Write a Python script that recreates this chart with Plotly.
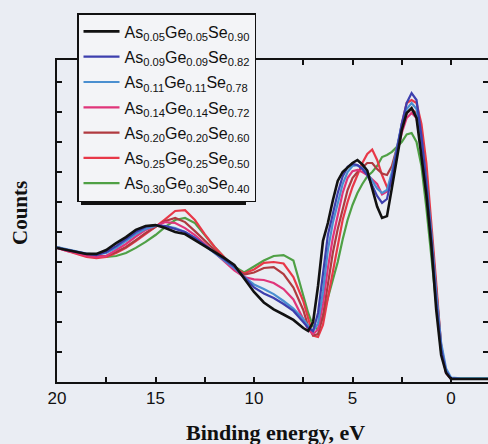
import plotly.graph_objects as go

energy = [20, 19.5, 19, 18.5, 18, 17.5, 17, 16.5, 16, 15.5, 15, 14.5, 14, 13.5, 13, 12.5, 12, 11.5, 11,
          10.5, 10, 9.5, 9, 8.5, 8, 7.5, 7.25, 7, 6.75, 6.5, 6.25, 6, 5.75, 5.5, 5.25, 5, 4.75, 4.5, 4.25,
          4, 3.75, 3.5, 3.25, 3, 2.75, 2.5, 2.25, 2, 1.75, 1.5, 1.25, 1, 0.75, 0.5, 0.25, 0, -0.5, -1, -2]

s005 = [4.47, 4.40, 4.33, 4.27, 4.27, 4.40, 4.63, 4.83, 5.07, 5.20, 5.23, 5.13, 5.00, 4.93, 4.73, 4.53, 4.33, 4.13, 3.90,
        3.45, 3.00, 2.65, 2.42, 2.25, 2.07, 1.80, 1.70, 2.00, 3.20, 4.70, 5.30, 6.05, 6.70, 7.00, 7.15, 7.30, 7.40, 7.25, 7.05,
        6.40, 5.85, 5.47, 5.53, 6.47, 7.40, 8.40, 8.97, 9.13, 8.80, 7.57, 6.23, 4.57, 2.40, 0.90, 0.30, 0.10, 0.10, 0.10, 0.10]
s009 = [4.47, 4.40, 4.33, 4.27, 4.23, 4.33, 4.53, 4.77, 5.00, 5.17, 5.23, 5.20, 5.10, 5.00, 4.80, 4.57, 4.33, 4.10, 3.85,
        3.50, 3.15, 2.95, 2.80, 2.60, 2.37, 2.00, 1.80, 1.70, 2.30, 3.60, 4.90, 5.60, 6.30, 6.85, 7.17, 7.27, 7.23, 7.10, 6.90,
        6.55, 6.20, 5.97, 6.10, 6.83, 7.70, 8.60, 9.30, 9.63, 9.40, 8.20, 6.60, 4.80, 2.70, 1.10, 0.35, 0.12, 0.10, 0.10, 0.10]
s011 = [4.50, 4.43, 4.35, 4.28, 4.25, 4.30, 4.47, 4.70, 4.93, 5.10, 5.20, 5.20, 5.13, 5.00, 4.80, 4.55, 4.30, 4.05, 3.80,
        3.50, 3.25, 3.10, 2.93, 2.70, 2.45, 2.10, 1.87, 1.70, 1.95, 3.00, 4.40, 5.30, 6.00, 6.60, 7.00, 7.20, 7.23, 7.13, 6.97,
        6.70, 6.45, 6.30, 6.40, 7.00, 7.80, 8.60, 9.10, 9.30, 9.10, 8.10, 6.70, 5.00, 3.00, 1.30, 0.45, 0.15, 0.12, 0.12, 0.12]
s014 = [4.47, 4.37, 4.30, 4.20, 4.17, 4.20, 4.40, 4.60, 4.85, 5.07, 5.20, 5.33, 5.30, 5.13, 4.90, 4.60, 4.33, 4.03, 3.72,
        3.50, 3.42, 3.40, 3.30, 3.10, 2.75, 2.10, 1.75, 1.60, 1.75, 2.60, 3.80, 4.80, 5.60, 6.30, 6.80, 7.03, 7.07, 7.00, 6.90,
        6.75, 6.60, 6.25, 6.35, 6.90, 7.60, 8.30, 8.80, 8.97, 8.80, 7.90, 6.50, 4.80, 2.80, 1.10, 0.30, 0.10, 0.10, 0.10, 0.10]
s020 = [4.50, 4.40, 4.33, 4.23, 4.20, 4.20, 4.33, 4.50, 4.73, 4.97, 5.17, 5.37, 5.47, 5.33, 5.03, 4.70, 4.40, 4.10, 3.80,
        3.58, 3.65, 3.80, 3.83, 3.60, 3.15, 2.40, 1.85, 1.55, 1.60, 2.20, 3.30, 4.30, 5.10, 5.80, 6.40, 6.80, 7.00, 7.15, 7.30,
        7.30, 7.10, 6.95, 6.90, 7.20, 7.80, 8.50, 8.95, 9.10, 8.95, 8.10, 6.80, 5.00, 3.00, 1.20, 0.35, 0.10, 0.10, 0.10, 0.10]
s025 = [4.47, 4.37, 4.27, 4.17, 4.13, 4.17, 4.30, 4.47, 4.70, 4.93, 5.17, 5.43, 5.70, 5.73, 5.40, 4.93, 4.50, 4.15, 3.80,
        3.62, 3.75, 3.97, 4.00, 3.95, 3.50, 2.70, 2.10, 1.55, 1.50, 1.90, 2.80, 3.70, 4.60, 5.40, 6.00, 6.50, 6.90, 7.30, 7.60,
        7.75, 7.40, 6.90, 6.50, 6.60, 7.60, 8.60, 9.30, 9.40, 9.30, 8.60, 7.30, 5.40, 3.30, 1.20, 0.30, 0.10, 0.10, 0.10, 0.10]
s030 = [4.50, 4.40, 4.30, 4.20, 4.17, 4.17, 4.20, 4.30, 4.47, 4.67, 4.90, 5.17, 5.40, 5.47, 5.30, 4.90, 4.50, 4.15, 3.85,
        3.65, 3.85, 4.05, 4.20, 4.23, 4.05, 2.90, 2.30, 1.85, 1.75, 2.20, 2.80, 3.40, 4.00, 4.75, 5.40, 5.90, 6.30, 6.60, 6.85,
        7.00, 7.20, 7.50, 7.57, 7.67, 7.85, 8.00, 8.25, 8.30, 8.00, 7.20, 5.80, 4.20, 2.50, 1.00, 0.35, 0.12, 0.12, 0.12, 0.12]

names = ["As<sub>0.05</sub>Ge<sub>0.05</sub>Se<sub>0.90</sub>",
         "As<sub>0.09</sub>Ge<sub>0.09</sub>Se<sub>0.82</sub>",
         "As<sub>0.11</sub>Ge<sub>0.11</sub>Se<sub>0.78</sub>",
         "As<sub>0.14</sub>Ge<sub>0.14</sub>Se<sub>0.72</sub>",
         "As<sub>0.20</sub>Ge<sub>0.20</sub>Se<sub>0.60</sub>",
         "As<sub>0.25</sub>Ge<sub>0.25</sub>Se<sub>0.50</sub>",
         "As<sub>0.30</sub>Ge<sub>0.30</sub>Se<sub>0.40</sub>"]
series = [s005, s009, s011, s014, s020, s025, s030]
colors = ["#111111", "#3d3fae", "#4a8fd0", "#e0357a", "#b03a40", "#e83848", "#4fa045"]
widths = [2.6, 2.2, 2.2, 2.2, 2.2, 2.2, 2.2]

BG = "#eaedf3"
W, H = 488, 444
ML, MR, MT, MB = 57, 0, 60, 62
PW, PH = W - ML - MR, H - MT - MB

fig = go.Figure()
for i in reversed(range(len(series))):
    fig.add_trace(go.Scatter(x=energy, y=series[i], mode="lines", name=names[i],
                             legendgroup="g%d" % i, legendrank=i + 1,
                             line=dict(color=colors[i], width=widths[i])))

def px_x(p):
    return (p - ML) / PW

def px_y(p):
    return (H - MB - p) / PH

# legend drop shadow
fig.add_shape(type="rect", xref="paper", yref="paper",
              x0=px_x(81), x1=px_x(246), y0=px_y(205), y1=px_y(17),
              fillcolor="#111111", line=dict(width=0), layer="above")

fig.add_annotation(text="<b>Counts</b>", xref="paper", yref="paper",
                   x=px_x(20), y=px_y(213), textangle=-90, showarrow=False,
                   xanchor="center", yanchor="middle",
                   font=dict(family="Liberation Serif", size=21, color="#111111"))
fig.add_annotation(text="<b>Binding energy, eV</b>", xref="paper", yref="paper",
                   x=px_x(275), y=px_y(432), showarrow=False,
                   xanchor="center", yanchor="middle",
                   font=dict(family="Liberation Serif", size=22, color="#111111"))

fig.update_layout(
    width=W, height=H,
    margin=dict(l=ML, r=MR, t=MT, b=MB, autoexpand=False),
    paper_bgcolor=BG, plot_bgcolor=BG,
    showlegend=True,
    legend=dict(x=px_x(77), y=px_y(13), xanchor="left", yanchor="top",
                bgcolor="#f3f4f7", bordercolor="#111111", borderwidth=1.5,
                traceorder="grouped",
                font=dict(family="Liberation Sans", size=16, color="#111111"),
                itemwidth=36, tracegroupgap=1.5),
    xaxis=dict(range=[20, 20 - PW / 19.7], showgrid=False, zeroline=False, automargin=False,
               tickmode="array", tickvals=[20, 17.5, 15, 12.5, 10, 7.5, 5, 2.5, 0, -2.5],
               ticktext=["20", "", "15", "", "10", "", "5", "", "0", ""],
               ticks="inside", ticklen=5, tickwidth=1.5, tickcolor="#111111",
               showline=True, linecolor="#111111", linewidth=1.5, mirror="ticks",
               tickfont=dict(family="Liberation Sans", size=17, color="#111111")),
    yaxis=dict(range=[0, PH / 30.0], showgrid=False, zeroline=False, automargin=False,
               tickmode="linear", tick0=0, dtick=1, showticklabels=False,
               ticks="inside", ticklen=5, tickwidth=1.5, tickcolor="#111111",
               showline=True, linecolor="#111111", linewidth=1.5, mirror="ticks"),
)

fig.write_html("out.html", config={"displayModeBar": False},
               post_script="document.body.style.margin='0px';document.body.style.overflow='hidden';")
